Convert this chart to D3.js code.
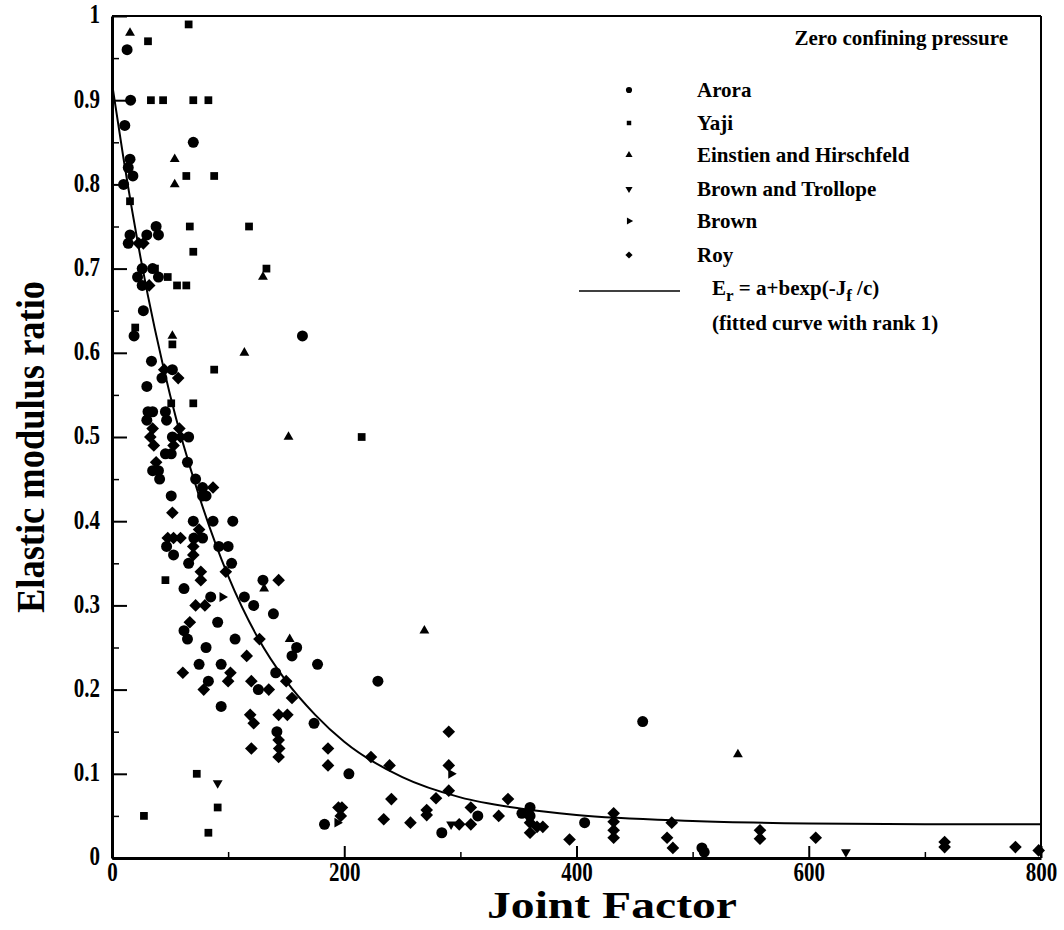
<!DOCTYPE html>
<html><head><meta charset="utf-8">
<script src="https://cdn.jsdelivr.net/npm/d3@7"></script>
<style>
body{margin:0;background:#fff;}
svg{display:block;}
text{font-family:"Liberation Serif","Times New Roman",serif;font-weight:bold;fill:#000;}
</style></head><body>
<svg id="chart" width="1064" height="930"></svg>
<script>
// ---- data (Joint Factor, Elastic modulus ratio) ----
const xTicks = [0, 200, 400, 600, 800];
const xMinorTicks = [100, 300, 500, 700];
const yTicks = [0, 0.1, 0.2, 0.3, 0.4, 0.5, 0.6, 0.7, 0.8, 0.9, 1];
const yTickLabels = ["0","0.1","0.2","0.3","0.4","0.5","0.6","0.7","0.8","0.9","1"];
const yMinorTicks = [0.05,0.15,0.25,0.35,0.45,0.55,0.65,0.75,0.85,0.95];

const arora = [[13,0.96],[16,0.90],[11,0.87],[70,0.85],[15.5,0.83],[14,0.82],[18,0.81],[10,0.80],[38,0.75],[15.5,0.74],[30,0.74],[40,0.74],[14,0.73],[26,0.70],[35,0.70],[22,0.69],[40,0.69],[26,0.68],[27,0.65],[19,0.62],[164,0.62],[34,0.59],[52,0.58],[43,0.57],[30,0.56],[31,0.53],[35,0.53],[30,0.52],[46,0.53],[47,0.52],[52,0.50],[66,0.50],[46,0.48],[51,0.48],[35,0.46],[40,0.46],[41,0.45],[65,0.47],[72,0.45],[78,0.44],[78,0.43],[81,0.43],[51,0.43],[70,0.40],[87,0.40],[104,0.40],[70.5,0.38],[78,0.38],[47,0.37],[92,0.37],[100,0.37],[53,0.36],[103,0.35],[66,0.35],[62,0.32],[130,0.33],[85,0.31],[114,0.31],[122,0.30],[139,0.29],[91,0.28],[62,0.27],[65,0.26],[106,0.26],[159,0.25],[155,0.24],[81,0.25],[75,0.23],[94,0.23],[177,0.23],[141,0.22],[83,0.21],[126,0.20],[229,0.21],[94,0.18],[142,0.15],[174,0.16],[204,0.10],[183,0.04],[284,0.03],[315,0.05],[353,0.053],[360,0.06],[360,0.05],[407,0.042],[457,0.162],[508,0.012],[510,0.007]];
const yaji = [[66,0.99],[31,0.97],[33.5,0.90],[44,0.90],[70,0.90],[83,0.90],[64,0.81],[88,0.81],[15.5,0.78],[67,0.75],[118,0.75],[70,0.72],[133,0.70],[37,0.70],[48,0.69],[56,0.68],[64,0.68],[20,0.63],[52,0.61],[88,0.58],[51,0.54],[70,0.54],[215,0.50],[46,0.33],[73,0.10],[91,0.06],[83,0.03],[27.5,0.05]];
const einstien = [[15.5,0.98],[54,0.83],[54,0.80],[130,0.69],[114,0.60],[52,0.62],[152,0.50],[131,0.32],[153,0.26],[269,0.27],[539,0.123]];
const brownTrollope = [[91,0.089],[292,0.04],[632,0.007]];
const brown = [[95,0.31],[194,0.042],[292,0.10]];
const roy = [[23,0.73],[27,0.73],[32,0.68],[45,0.58],[57,0.57],[35,0.51],[58,0.51],[33,0.50],[59,0.50],[36,0.49],[53,0.49],[38,0.47],[87,0.44],[52,0.41],[75,0.39],[48,0.38],[53,0.38],[59,0.38],[70,0.37],[70,0.36],[76.5,0.34],[98,0.34],[76.5,0.33],[143.5,0.33],[72,0.30],[80,0.30],[67,0.28],[127,0.26],[116,0.24],[61,0.22],[102,0.22],[100,0.21],[120,0.21],[150,0.21],[79,0.20],[135,0.20],[155,0.19],[119,0.17],[122,0.16],[143.5,0.17],[151,0.17],[143.5,0.14],[144,0.13],[143.5,0.12],[120,0.13],[186,0.13],[186,0.11],[223,0.12],[239,0.11],[240.6,0.07],[234,0.046],[195,0.06],[198,0.06],[197,0.05],[257,0.042],[271,0.057],[271,0.051],[279,0.071],[290,0.15],[290,0.11],[290,0.08],[299,0.04],[309,0.06],[309,0.04],[333,0.05],[341,0.07],[360,0.042],[360,0.03],[366,0.037],[371,0.037],[394,0.022],[432,0.053],[432,0.043],[432,0.033],[432,0.024],[482,0.042],[478,0.024],[483,0.012],[558,0.033],[558,0.023],[606,0.024],[717,0.019],[717,0.013],[778,0.013],[798,0.009]];

// fitted curve
const curveJ = [0, 10, 25, 50, 75, 100, 125, 150, 175, 200, 250, 300, 350, 400, 500, 600, 700, 800];
const curveE = [0.92, 0.83, 0.71, 0.55, 0.43, 0.335, 0.263, 0.21, 0.17, 0.138, 0.096, 0.072, 0.059, 0.051, 0.044, 0.041, 0.040, 0.040];

const legendNames = ["Arora", "Yaji", "Einstien and Hirschfeld", "Brown and Trollope", "Brown", "Roy"];
const titleText = "Zero confining pressure";
const xTitle = "Joint Factor";
const yTitle = "Elastic modulus ratio";

// ---- drawing ----
const svg = d3.select("#chart");
const x = d3.scaleLinear().domain([0, 800]).range([112, 1041]);
const y = d3.scaleLinear().domain([0, 1]).range([858, 16]);

// custom marker shapes
const triShape = (rot)=>({draw(ctx, size){
  const s = Math.sqrt(size/(Math.sqrt(3)/4)), h = s*Math.sqrt(3)/2;
  const pts = [[-s/2,h/3],[s/2,h/3],[0,-2*h/3]].map(([a,b])=>{
    const c=Math.cos(rot), sn=Math.sin(rot); return [a*c-b*sn, a*sn+b*c];});
  ctx.moveTo(pts[0][0],pts[0][1]); ctx.lineTo(pts[1][0],pts[1][1]); ctx.lineTo(pts[2][0],pts[2][1]); ctx.closePath();
}});
const diamondSq = {draw(ctx, size){ const r=Math.sqrt(size/2); ctx.moveTo(0,-r); ctx.lineTo(r,0); ctx.lineTo(0,r); ctx.lineTo(-r,0); ctx.closePath(); }};

const series = [
  {data: arora, type: d3.symbolCircle, size: 95, lsize: 30},
  {data: yaji, type: d3.symbolSquare, size: 60, lsize: 20},
  {data: einstien, type: triShape(0), size: 42, lsize: 22},
  {data: brownTrollope, type: triShape(Math.PI), size: 42, lsize: 22},
  {data: brown, type: triShape(Math.PI/2), size: 42, lsize: 22},
  {data: roy, type: diamondSq, size: 80, lsize: 26}
];

// frame (top and right)
const fx0 = x(0), fx1 = x(800), fy0 = y(0), fy1 = y(1);
svg.append("line").attr("x1",fx0).attr("x2",fx1).attr("y1",fy1).attr("y2",fy1).attr("stroke","#000").attr("stroke-width",2);
svg.append("line").attr("x1",fx1).attr("x2",fx1).attr("y1",fy1).attr("y2",fy0).attr("stroke","#000").attr("stroke-width",2);

// minor ticks
svg.append("g").attr("transform",`translate(0,${fy0})`)
  .call(d3.axisBottom(x).tickValues(xMinorTicks).tickSizeInner(-6).tickSizeOuter(0).tickFormat(""))
  .call(g=>g.select(".domain").remove())
  .call(g=>g.selectAll("line").attr("stroke-width",1.5));
svg.append("g").attr("transform",`translate(${fx0},0)`)
  .call(d3.axisLeft(y).tickValues(yMinorTicks).tickSizeInner(-7).tickSizeOuter(0).tickFormat(""))
  .call(g=>g.select(".domain").remove())
  .call(g=>g.selectAll("line").attr("stroke-width",1.5));

// major axes
const xAxis = svg.append("g").attr("transform",`translate(0,${fy0})`)
  .call(d3.axisBottom(x).tickValues(xTicks).tickSizeInner(-12).tickSizeOuter(0).tickPadding(4).tickFormat(d3.format("d")));
xAxis.select(".domain").attr("stroke-width",3);
xAxis.selectAll("line").attr("stroke-width",2);
xAxis.selectAll(".tick text").attr("font-size",21).attr("font-family","Liberation Serif").attr("font-weight","bold")
  .attr("y",3).attr("transform","scale(1,1.3)");

const yAxis = svg.append("g").attr("transform",`translate(${fx0},0)`)
  .call(d3.axisLeft(y).tickValues(yTicks).tickSizeInner(-15).tickSizeOuter(0).tickPadding(12).tickFormat((d,i)=>yTickLabels[i]));
yAxis.select(".domain").attr("stroke-width",3);
yAxis.selectAll("line").attr("stroke-width",2);
yAxis.selectAll(".tick text").attr("font-size",21).attr("font-family","Liberation Serif").attr("font-weight","bold")
  .attr("transform","scale(1,1.3)")
  .attr("dy","0.25em");

// fitted curve
const curvePts = curveJ.map((j,i)=>[j, curveE[i]]);
svg.append("path").datum(curvePts)
  .attr("d", d3.line().x(d=>x(d[0])).y(d=>y(d[1])).curve(d3.curveMonotoneX))
  .attr("fill","none").attr("stroke","#000").attr("stroke-width",2);

// points
series.forEach(s=>{
  svg.append("g").selectAll("path").data(s.data).join("path")
    .attr("transform",d=>`translate(${x(d[0])},${y(d[1])})`)
    .attr("d", d3.symbol().type(s.type).size(s.size))
    .attr("fill","#000");
});

// legend
const legRows = [90, 123, 155, 189, 221, 255];
svg.append("text").attr("x",1008).attr("y",45).attr("text-anchor","end").attr("font-size",21).text(titleText);
series.forEach((s,i)=>{
  svg.append("path").attr("transform",`translate(629,${legRows[i]})`)
    .attr("d", d3.symbol().type(s.type).size(s.lsize)).attr("fill","#000");
  svg.append("text").attr("x",697).attr("y",legRows[i]+7).attr("font-size",21).text(legendNames[i]);
});
svg.append("line").attr("x1",579).attr("x2",680).attr("y1",291).attr("y2",291).attr("stroke","#000").attr("stroke-width",1.5);
const eq = svg.append("text").attr("x",712).attr("y",295).attr("font-size",21);
eq.append("tspan").text("E");
eq.append("tspan").attr("dy",6).attr("font-size",17).text("r");
eq.append("tspan").attr("dy",-6).text(" = a+bexp(-J");
eq.append("tspan").attr("dy",6).attr("font-size",17).text("f");
eq.append("tspan").attr("dy",-6).text(" /c)");
svg.append("text").attr("x",712).attr("y",330).attr("font-size",21).text("(fitted curve with rank 1)");

// axis titles
svg.append("text").attr("x",612).attr("y",918).attr("text-anchor","middle").attr("font-size",38)
  .attr("textLength",250).attr("lengthAdjust","spacingAndGlyphs").text(xTitle);
svg.append("text").attr("transform","translate(44,447) rotate(-90)").attr("text-anchor","middle").attr("font-size",40)
  .attr("textLength",332).attr("lengthAdjust","spacingAndGlyphs").text(yTitle);
</script>
</body></html>
